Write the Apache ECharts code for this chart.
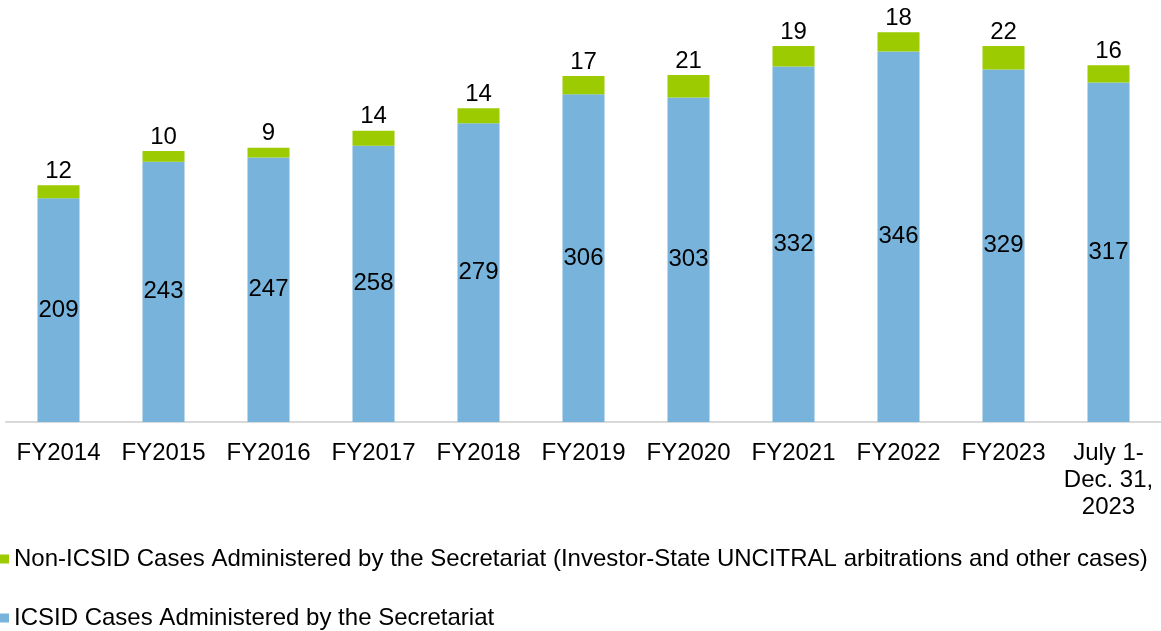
<!DOCTYPE html>
<html>
<head>
<meta charset="utf-8">
<script src="https://cdn.jsdelivr.net/npm/echarts@6/dist/echarts.min.js"></script>
<style>
  html, body { margin: 0; padding: 0; background: #fff; }
  #chart { width: 1161px; height: 631px; }
</style>
</head>
<body>
<div id="chart"></div>
<script>
const categories = ['FY2014', 'FY2015', 'FY2016', 'FY2017', 'FY2018', 'FY2019', 'FY2020', 'FY2021', 'FY2022', 'FY2023', 'July 1-\nDec. 31,\n2023']
const icsidCases = [209, 243, 247, 258, 279, 306, 303, 332, 346, 329, 317]
const nonIcsidCases = [12, 10, 9, 14, 14, 17, 21, 19, 18, 22, 16]

const icsidName = 'ICSID Cases Administered by the Secretariat'
const nonIcsidName = 'Non-ICSID Cases Administered by the Secretariat (Investor-State UNCITRAL arbitrations and other cases)'

const font = 'Liberation Sans, Arial, sans-serif'
const fs = 24

// two legends, one per row
const legendBase = {
  left: 0,
  itemWidth: 9,
  itemHeight: 9,
  icon: 'rect',
  padding: 0,
  textStyle: { fontSize: fs, color: '#000', fontFamily: font, padding: [0, 0, 0, 0] }
}

const chart = echarts.init(document.getElementById('chart'))
chart.setOption({
  animation: false,
  textStyle: { fontFamily: font },
  grid: { left: 6, right: 0, top: 0, bottom: 209 },
  legend: [
    Object.assign({}, legendBase, { top: 547, data: [nonIcsidName] }),
    Object.assign({}, legendBase, { top: 606, data: [icsidName] })
  ],
  xAxis: {
    type: 'category',
    data: categories,
    axisLine: { lineStyle: { color: '#d9d9d9', width: 2 } },
    axisTick: { show: false },
    axisLabel: { interval: 0, fontSize: fs, color: '#000', margin: 18, lineHeight: 27, fontFamily: font }
  },
  yAxis: {
    type: 'value',
    min: 0,
    max: 394,
    show: false,
    splitLine: { show: false }
  },
  series: [
    {
      name: icsidName,
      type: 'bar',
      stack: 'total',
      barWidth: 42,
      data: icsidCases,
      itemStyle: { color: '#77b3db' },
      label: { show: true, position: 'inside', fontSize: fs, color: '#000', fontFamily: font }
    },
    {
      name: nonIcsidName,
      type: 'bar',
      stack: 'total',
      barWidth: 42,
      data: nonIcsidCases,
      itemStyle: { color: '#9bcb00' },
      label: { show: true, position: 'top', distance: 2, fontSize: fs, color: '#000', fontFamily: font }
    }
  ]
})
</script>
</body>
</html>
